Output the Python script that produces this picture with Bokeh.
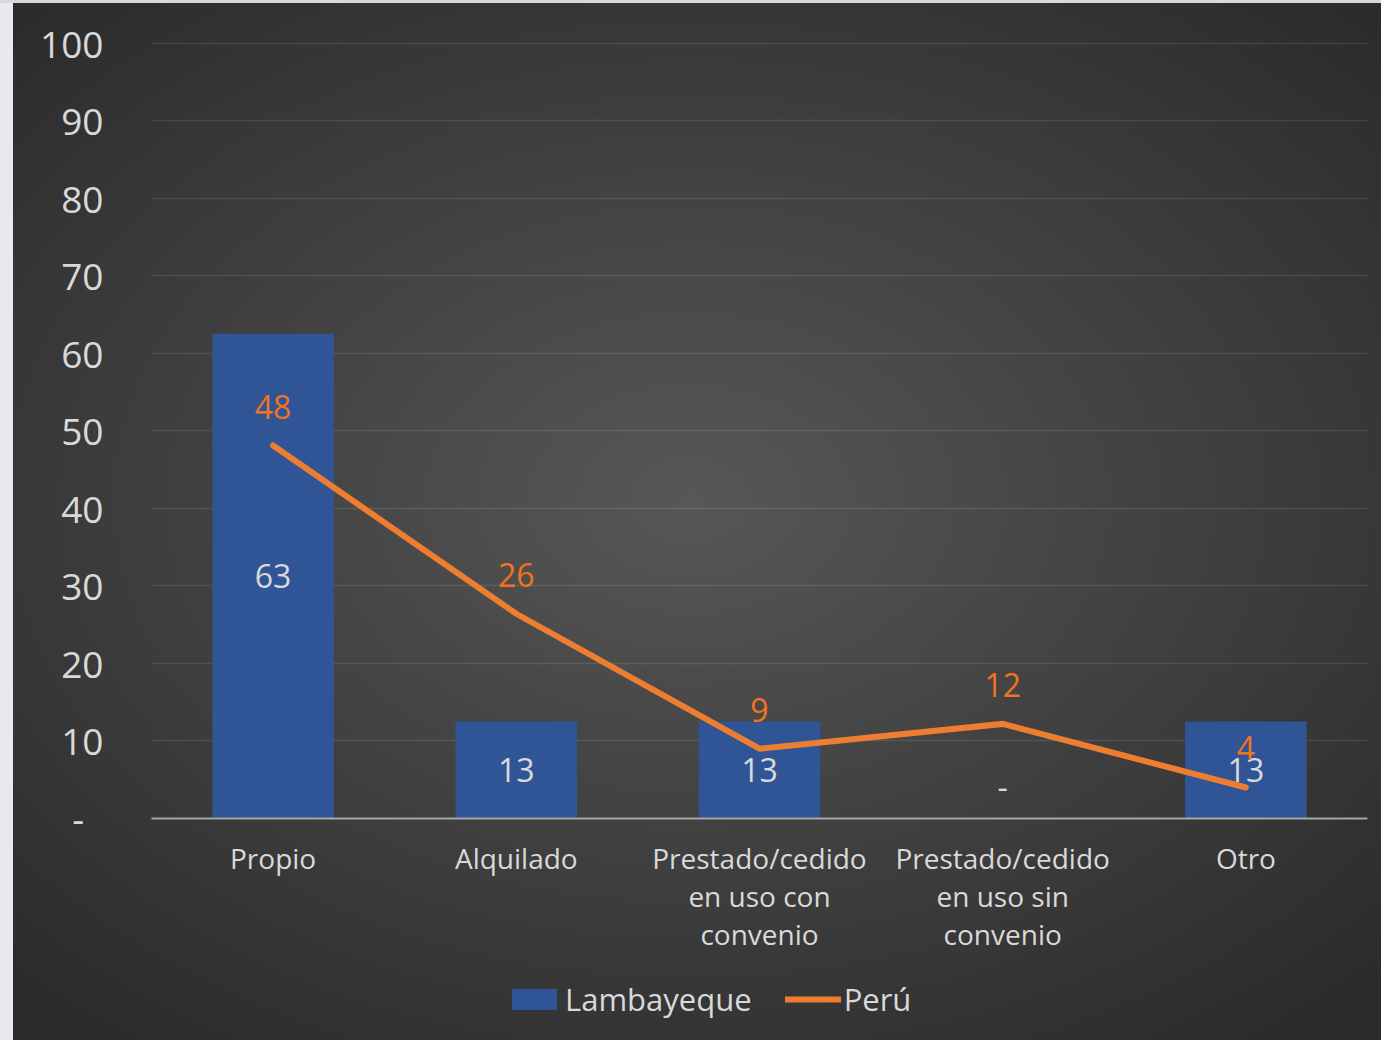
from bokeh.plotting import figure
from bokeh.layouts import column
from bokeh.models import (ColumnDataSource, Range1d, FactorRange, Legend, LegendItem,
                          FixedTicker, LabelSet)
from bokeh.core.properties import value
from bokeh.embed import file_html
from bokeh.resources import INLINE

# ---- data ----
categories = ["Propio", "Alquilado", "Prestado/cedido\nen uso con\nconvenio",
              "Prestado/cedido\nen uso sin\nconvenio", "Otro"]
lambayeque = [62.5, 12.5, 12.5, 0.0, 12.5]
lambayeque_labels = ["63", "13", "13", "-", "13"]
peru = [48.1, 26.4, 9.0, 12.2, 4.0]
peru_labels = ["48", "26", "9", "12", "4"]
y_ticks = [0, 10, 20, 30, 40, 50, 60, 70, 80, 90, 100]
y_tick_labels = ["-\u00a0\u00a0", "10", "20", "30", "40", "50", "60", "70", "80", "90", "100"]
series_names = ["Lambayeque", "Perú"]

FONT = "Open Sans"
TXT = "#d9d9d9"
BLUE = "#2f5597"
ORANGE = "#ed7d31"

src = ColumnDataSource(dict(
    cat=categories,
    lam=lambayeque,
    lam_mid=[v / 2 for v in lambayeque],
    lam_lab=lambayeque_labels,
    lam_off=[32 if v == 0 else 0 for v in lambayeque],
    peru=peru,
    peru_lab=peru_labels,
))

# ---------------- main chart ----------------
p = figure(width=1381, height=960, output_backend="svg", toolbar_location=None,
           x_range=FactorRange(*categories, range_padding=0),
           y_range=Range1d(0, 100.2),
           min_border_left=151, min_border_right=14, min_border_top=41,
           min_border_bottom=142)
p.background_fill_alpha = 0
p.border_fill_alpha = 0
p.outline_line_color = None

bars = p.vbar(x="cat", top="lam", width=0.5, source=src, fill_color=BLUE, line_color=None)
line = p.line(x="cat", y="peru", source=src, line_color=ORANGE, line_width=6,
              line_cap="round", line_join="miter")

p.add_layout(LabelSet(x="cat", y="lam_mid", text="lam_lab", y_offset="lam_off", source=src,
                      text_align="center", text_baseline="middle", text_color=TXT,
                      text_font=value(FONT), text_font_size="32px"))
p.add_layout(LabelSet(x="cat", y="peru", text="peru_lab", y_offset=39, source=src,
                      text_align="center", text_baseline="middle", text_color="#f2731f",
                      text_font=value(FONT), text_font_size="32px"))

p.yaxis.ticker = FixedTicker(ticks=y_ticks)
p.yaxis.major_label_overrides = {t: l for t, l in zip(y_ticks, y_tick_labels)}
p.yaxis.axis_line_color = None
p.yaxis.major_tick_line_color = None
p.yaxis.minor_tick_line_color = None
p.yaxis.major_label_standoff = 42
p.yaxis.major_label_text_font = FONT
p.yaxis.major_label_text_font_size = "37px"
p.yaxis.major_label_text_color = TXT

p.xaxis.axis_line_color = "#a6a6a6"
p.xaxis.axis_line_width = 2
p.xaxis.major_tick_line_color = None
p.xaxis.minor_tick_line_color = None
p.xaxis.major_label_standoff = 14
p.xaxis.major_label_text_font = FONT
p.xaxis.major_label_text_font_size = "28px"
p.xaxis.major_label_text_color = TXT
p.xaxis.major_label_text_line_height = 1.0

p.xgrid.grid_line_color = None
p.ygrid.ticker = FixedTicker(ticks=y_ticks[1:])
p.ygrid.grid_line_color = "#ffffff"
p.ygrid.grid_line_alpha = 0.1
p.ygrid.grid_line_width = 1.5

# ---------------- legend strip (same series, plotted far out of view) ----------------
pl = figure(width=1381, height=80, output_backend="svg", toolbar_location=None,
            x_range=FactorRange(*categories, range_padding=0), y_range=Range1d(1000, 1001),
            min_border_left=151, min_border_right=14, min_border_top=0,
            min_border_bottom=0)
pl.axis.visible = False
pl.grid.visible = False
pl.outline_line_color = None
pl.background_fill_alpha = 0
pl.border_fill_alpha = 0
leg_bar = pl.vbar(x="cat", top="lam", width=0, source=src, fill_color=BLUE, line_color=None)
leg_line = pl.line(x="cat", y="peru", source=src, line_color=ORANGE, line_width=6,
                   line_cap="round")

legend = Legend(items=[LegendItem(label=series_names[0], renderers=[leg_bar]),
                       LegendItem(label=series_names[1], renderers=[leg_line])],
                orientation="horizontal", location=(355, 20),
                glyph_width=56, glyph_height=26, label_standoff=3, spacing=33,
                padding=0, margin=0, border_line_color=None, background_fill_alpha=0,
                label_text_font=FONT, label_text_font_size="31px", label_text_color=TXT)
pl.add_layout(legend, "center")

layout = column(p, pl, spacing=0)
layout.styles = {"background": "linear-gradient(to bottom, #d7d8dc 0px, #d7d8dc 3px, transparent 3px), "
                               "linear-gradient(to right, #e8e9ec 0px, #e8e9ec 13px, transparent 13px), "
                               "radial-gradient(ellipse 70% 65% at 50% 48%, #575757 0%, #454545 40%, #2b2b2b 100%)"}

open("out.html", "w").write(file_html(layout, INLINE))
